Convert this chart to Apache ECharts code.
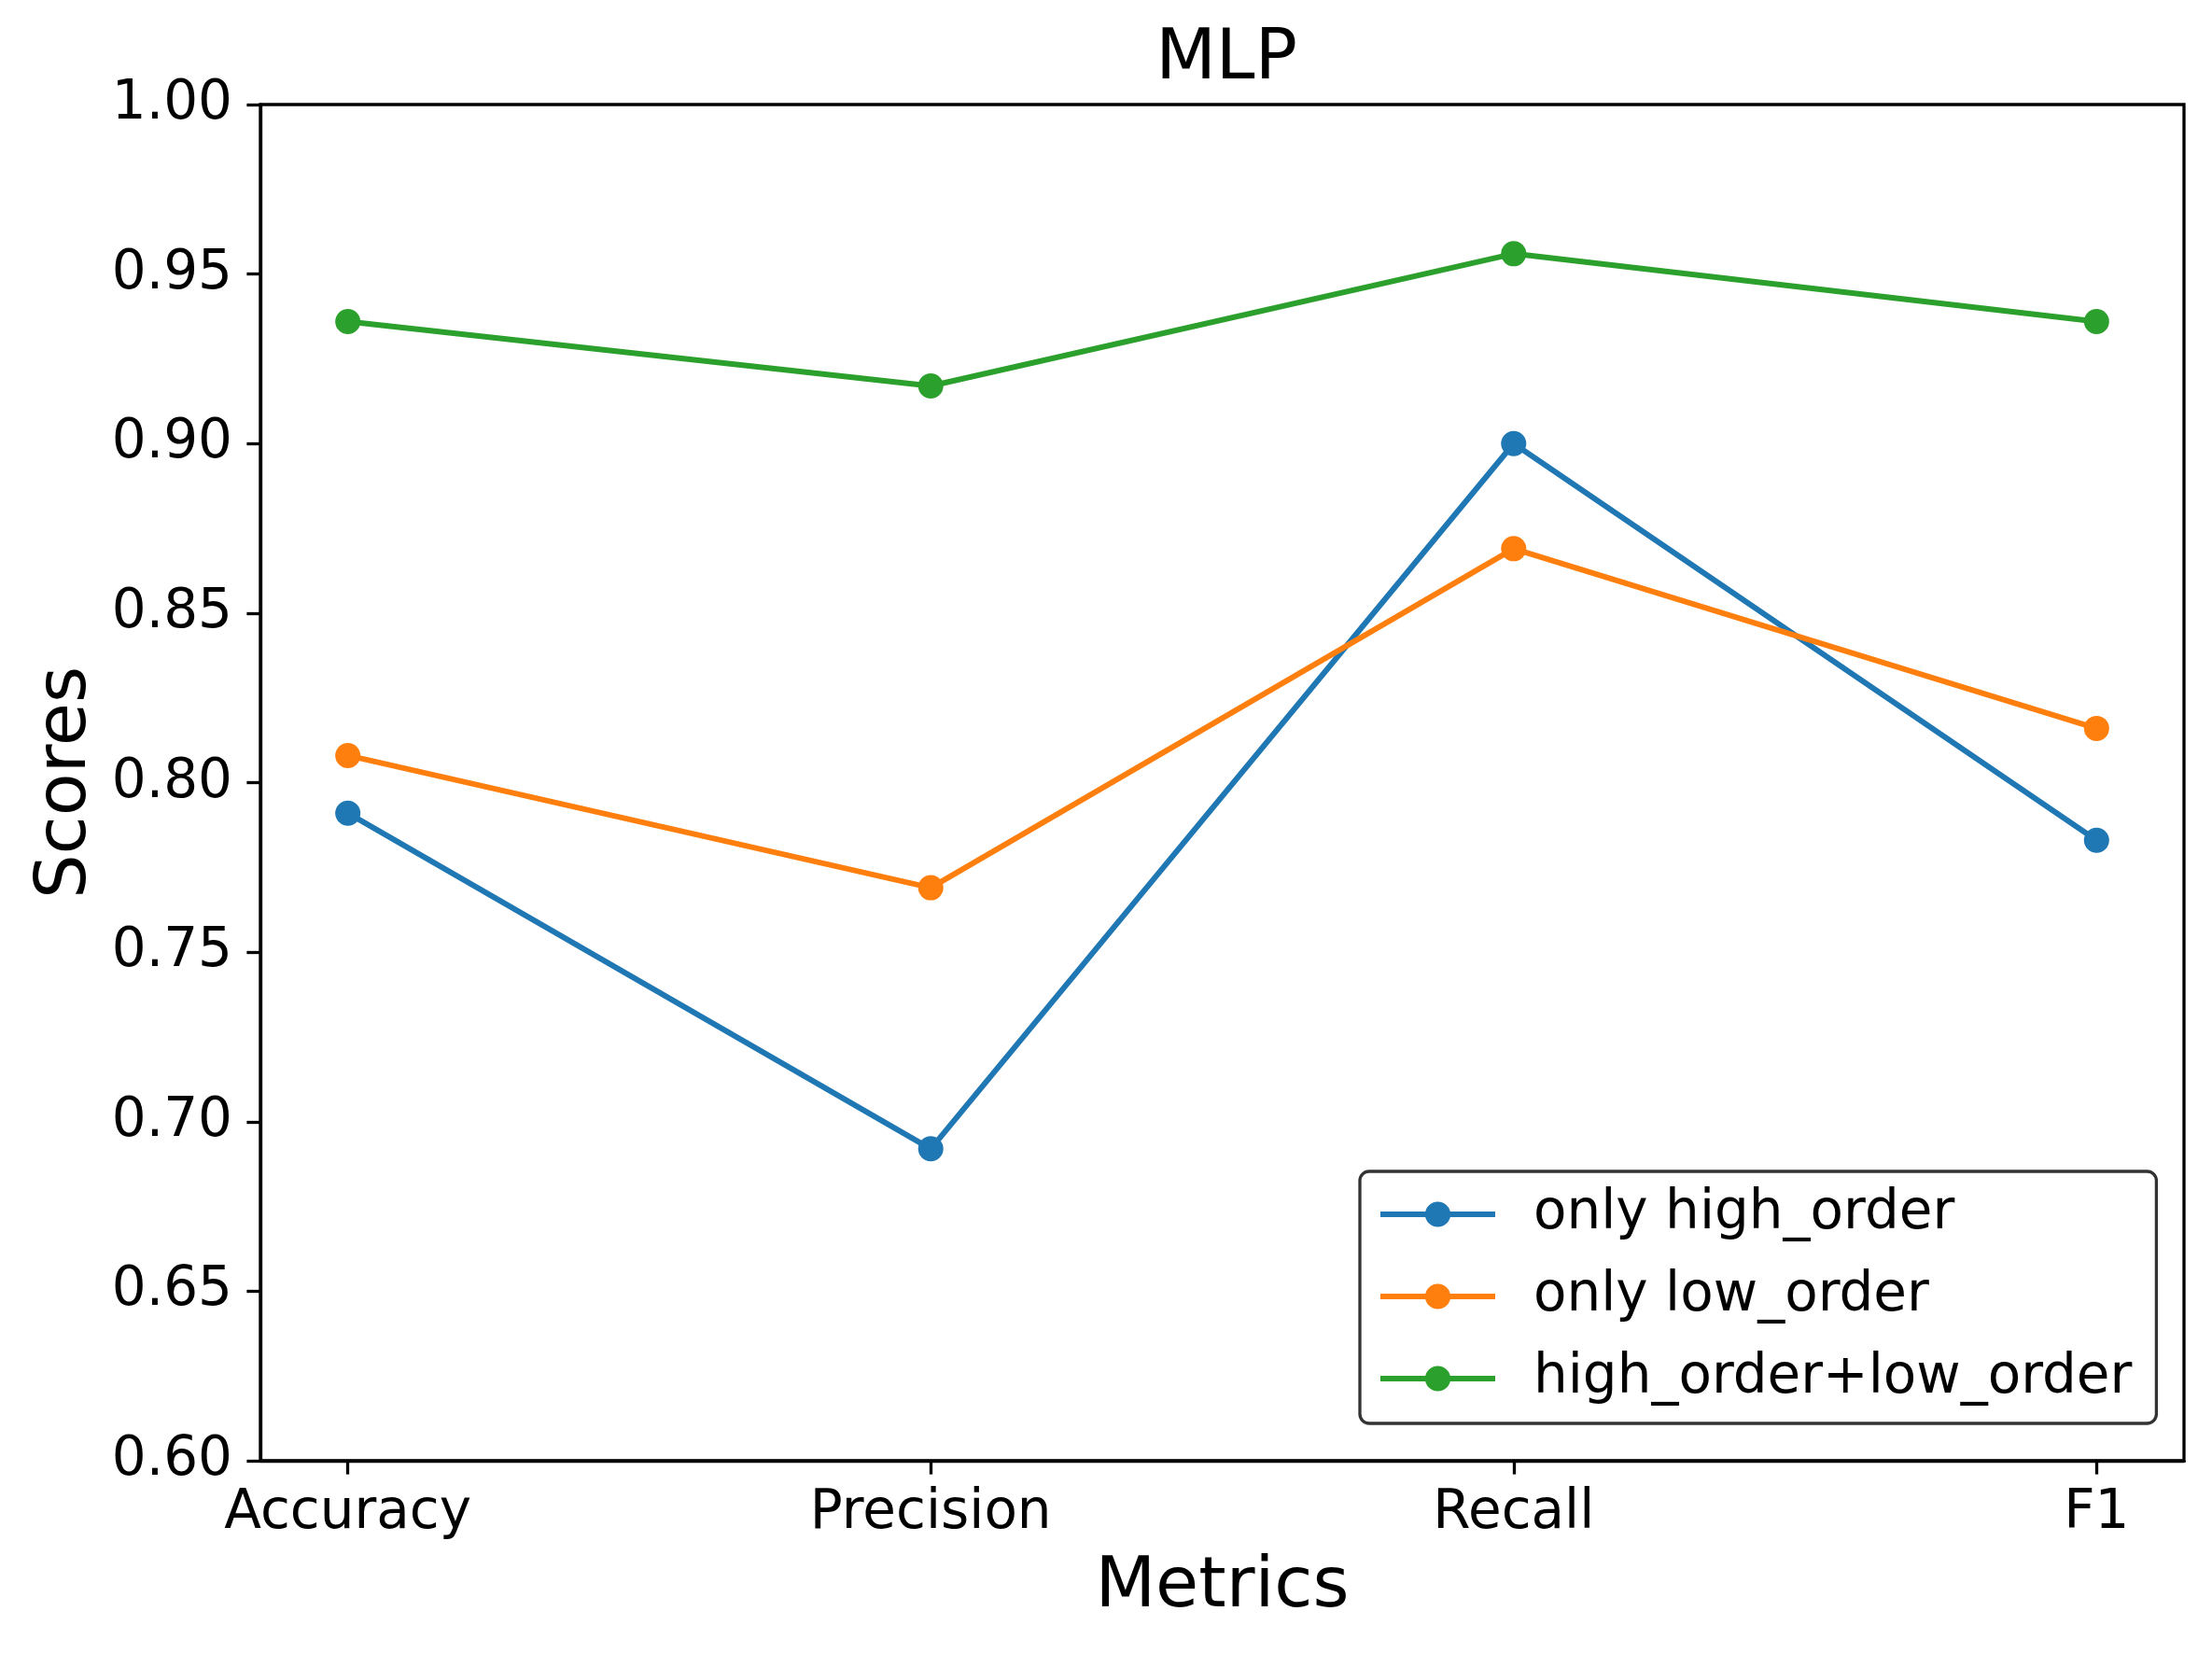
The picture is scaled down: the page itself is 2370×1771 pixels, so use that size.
<!DOCTYPE html>
<html>
<head>
<meta charset="utf-8">
<script src="https://cdn.jsdelivr.net/npm/echarts@6/dist/echarts.min.js"></script>
<style>
html,body{margin:0;padding:0;background:#fff;}
#chart{width:2370px;height:1771px;}
</style>
</head>
<body>
<div id="chart"></div>
<script>
const categories = ['Accuracy', 'Precision', 'Recall', 'F1'];
const seriesNames = ['only high_order', 'only low_order', 'high_order+low_order'];
const onlyHigh = [0.791, 0.692, 0.900, 0.783];
const onlyLow = [0.808, 0.769, 0.869, 0.816];
const highLow = [0.936, 0.917, 0.956, 0.936];
const yTicks = [0.60, 0.65, 0.70, 0.75, 0.80, 0.85, 0.90, 0.95, 1.00];
const colors = ['#1f77b4', '#ff7f0e', '#2ca02c'];

const FONT = 'DejaVu Sans';
const chart = echarts.init(document.getElementById('chart'), null, {renderer: 'canvas'});
const allSeries = [onlyHigh, onlyLow, highLow];
const catIdx = categories.map((c, i) => i);

chart.setOption({
  animation: false,
  backgroundColor: '#fff',
  textStyle: {fontFamily: FONT},
  title: {
    text: 'MLP', left: 1309, textAlign: 'center', top: 22,
    textStyle: {fontFamily: FONT, fontSize: 75, fontWeight: 'normal', color: '#000'}
  },
  grid: {
    left: 279, top: 112, width: 2061, height: 1453,
    show: true, borderColor: '#000', borderWidth: 3.3, backgroundColor: 'transparent'
  },
  legend: {
    orient: 'vertical',
    left: 1457, top: 1255,
    data: seriesNames,
    itemWidth: 123, itemHeight: 34, itemGap: 28,
    padding: [16, 26, 18, 19],
    backgroundColor: '#fff',
    borderColor: 'rgba(0,0,0,0.8)', borderWidth: 3.3, borderRadius: 10,
    lineStyle: {width: 6},
    textStyle: {fontFamily: FONT, fontSize: 58, color: '#000', lineHeight: 60, padding: [0, 0, 0, 36]}
  },
  xAxis: {
    type: 'value', min: -0.15, max: 3.15,
    name: 'Metrics', nameLocation: 'middle', nameGap: 99,
    nameTextStyle: {fontFamily: FONT, fontSize: 75, color: '#000'},
    axisLine: {show: true, onZero: false, lineStyle: {color: '#000', width: 3.3}},
    axisTick: {show: true, customValues: catIdx, length: 14.6, inside: false, lineStyle: {color: '#000', width: 3.3}},
    axisLabel: {
      customValues: catIdx, margin: 28,
      formatter: v => categories[Math.round(v)] || '',
      fontFamily: FONT, fontSize: 58, color: '#000'
    },
    splitLine: {show: false}
  },
  yAxis: {
    type: 'value', min: 0.6, max: 1.0, interval: 0.05,
    name: 'Scores', nameLocation: 'middle', nameGap: 168, nameRotate: 90,
    nameTextStyle: {fontFamily: FONT, fontSize: 75, color: '#000'},
    axisLine: {show: true, onZero: false, lineStyle: {color: '#000', width: 3.3}},
    axisTick: {show: true, length: 14.6, lineStyle: {color: '#000', width: 3.3}},
    axisLabel: {
      margin: 30, fontFamily: FONT, fontSize: 58, color: '#000',
      formatter: v => v.toFixed(2)
    },
    splitLine: {show: false}
  },
  series: allSeries.map((vals, si) => ({
    name: seriesNames[si],
    type: 'line',
    data: vals.map((v, i) => [i, v]),
    symbol: 'circle', symbolSize: 27,
    color: colors[si],
    lineStyle: {width: 6, color: colors[si]},
    itemStyle: {color: colors[si]},
    z: 2 + si
  }))
});
</script>
</body>
</html>
